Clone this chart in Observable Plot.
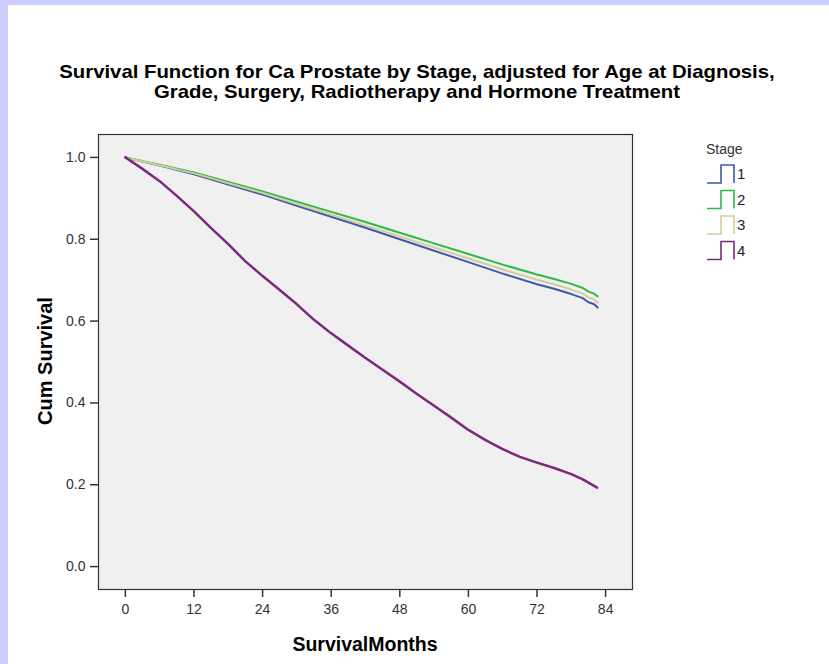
<!DOCTYPE html>
<html><head><meta charset="utf-8">
<script src="https://cdn.jsdelivr.net/npm/d3@7"></script>
<script src="https://cdn.jsdelivr.net/npm/@observablehq/plot@0.6"></script>
<style>
html,body{margin:0;padding:0;background:#fff;}
#page{position:relative;width:829px;height:664px;background:#fff;overflow:hidden;font-family:Arial,"Liberation Sans",sans-serif;}
#lavL{position:absolute;left:0;top:0;width:8px;height:664px;background:#ccccff;}
#lavT{position:absolute;left:0;top:0;width:829px;height:5px;background:#ccccff;}
#title{position:absolute;left:7px;width:820px;top:62px;text-align:center;font-weight:bold;font-size:19px;line-height:20px;color:#000;transform:scaleX(1.07);transform-origin:center top;}
#chart{position:absolute;left:0;top:110px;}
#ylab{position:absolute;left:45px;top:361px;transform:translate(-50%,-50%) rotate(-90deg);font-weight:bold;font-size:20px;white-space:nowrap;color:#000;}
#xlab{position:absolute;left:365px;top:644px;transform:translate(-50%,-50%);font-weight:bold;font-size:19.5px;white-space:nowrap;color:#000;}
#legend{position:absolute;left:700px;top:136px;}
</style>
</head><body>
<div id="page">
<div id="lavL"></div><div id="lavT"></div>
<div id="title">Survival Function for Ca Prostate by Stage, adjusted for Age at Diagnosis,<br>Grade, Surgery, Radiotherapy and Hormone Treatment</div>
<div id="chart"></div>
<div id="ylab">Cum Survival</div>
<div id="xlab">SurvivalMonths</div>
<div id="legend"></div>
</div>
<script>
// ---- data ----
const stages = ["1", "2", "3", "4"];
const stageColors = ["#3e58ac", "#2eb848", "#d3ce97", "#7c287d"];
const xTicks = [0, 12, 24, 36, 48, 60, 72, 84];
const yTicks = [0, 0.2, 0.4, 0.6, 0.8, 1.0];

const monthsA = [0, 6, 12, 18, 24, 30, 36, 42, 48, 54, 60, 66, 72, 75, 78, 80, 81, 82, 82.6];
const stage1 = [1.000, 0.980, 0.959, 0.934, 0.909, 0.882, 0.855, 0.828, 0.800, 0.772, 0.744, 0.716, 0.690, 0.679, 0.666, 0.656, 0.646, 0.641, 0.633];
const stage2 = [1.000, 0.982, 0.963, 0.940, 0.917, 0.892, 0.867, 0.842, 0.816, 0.790, 0.764, 0.738, 0.714, 0.703, 0.691, 0.681, 0.672, 0.667, 0.660];
const stage3 = [1.000, 0.981, 0.961, 0.937, 0.913, 0.886, 0.860, 0.834, 0.807, 0.780, 0.753, 0.726, 0.701, 0.690, 0.677, 0.667, 0.658, 0.653, 0.645];

const monthsB = [0, 3, 6, 9, 12, 15, 18, 21, 24, 27, 30, 33, 36, 39, 42, 45, 48, 51, 54, 57, 60, 63, 66, 69, 72, 75, 78, 80, 81, 82.5];
const stage4 = [1.000, 0.972, 0.942, 0.906, 0.868, 0.827, 0.788, 0.746, 0.710, 0.676, 0.641, 0.603, 0.570, 0.540, 0.510, 0.481, 0.452, 0.422, 0.393, 0.364, 0.334, 0.309, 0.287, 0.268, 0.254, 0.241, 0.226, 0.213, 0.205, 0.193];

// ---- build table ----
const rows = [];
[[monthsA, stage1, "1"], [monthsA, stage2, "2"], [monthsA, stage3, "3"], [monthsB, stage4, "4"]].forEach(([ms, vs, s]) => {
  ms.forEach((m, i) => rows.push({month: m, surv: vs[i], stage: s}));
});

const chart = Plot.plot({
  width: 829,
  height: 554,
  marginLeft: 98,
  marginRight: 197,
  marginTop: 24,
  marginBottom: 75,
  style: {fontFamily: "Arial, 'Liberation Sans', sans-serif", fontSize: "14px", color: "#333", background: "transparent"},
  x: {domain: [-4.7, 88.7]},
  y: {domain: [-0.056, 1.056]},
  color: {domain: stages, range: stageColors},
  marks: [
    Plot.frame({fill: "#f0f0f0", stroke: null}),
    Plot.axisX({ticks: xTicks, tickSize: 8, tickPadding: 7, label: null, stroke: "#333", strokeWidth: 1.5}),
    Plot.axisY({ticks: yTicks, tickSize: 8, tickPadding: 5, tickFormat: d3.format(".1f"), label: null, stroke: "#333", strokeWidth: 1.5}),
    Plot.line(rows, {x: "month", y: "surv", z: "stage", stroke: "stage", strokeWidth: d => d.stage === "4" ? 2.5 : 2}),
    Plot.frame({stroke: "#333", strokeWidth: 1.2})
  ]
});
document.getElementById("chart").appendChild(chart);

// ---- legend ----
const lg = d3.select("#legend").append("svg").attr("width", 100).attr("height", 130)
  .style("font-family", "Arial, 'Liberation Sans', sans-serif");
lg.append("text").attr("x", 6).attr("y", 18).attr("font-size", 14).attr("fill", "#333").text("Stage");
stages.forEach((s, i) => {
  const cy = 38 + i * 25.5;
  lg.append("path")
    .attr("d", `M7,${cy + 9}H21V${cy - 9}H34V${cy + 9}`)
    .attr("fill", "none").attr("stroke", stageColors[i]).attr("stroke-width", 1.6);
  lg.append("text").attr("x", 37).attr("y", cy + 5).attr("font-size", 15).attr("fill", "#222").text(s);
});
</script>
</body></html>
